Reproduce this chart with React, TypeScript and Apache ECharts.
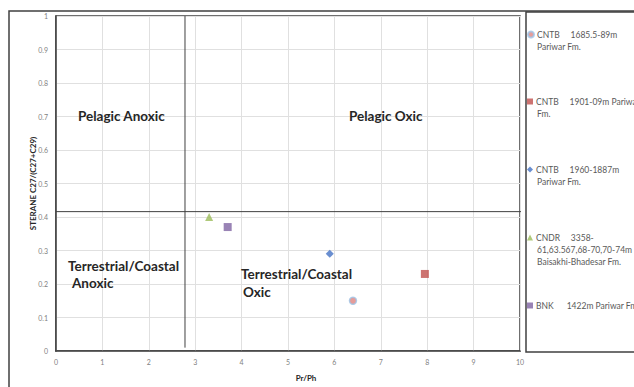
import React, { useEffect, useRef } from "react";
import * as echarts from "echarts";

const seriesNames = [
  "CNTB 1685.5-89m Pariwar Fm.",
  "CNTB 1901-09m Pariwar Fm.",
  "CNTB 1960-1887m Pariwar Fm.",
  "CNDR 3358-61,63.567,68-70,70-74m Baisakhi-Bhadesar Fm.",
  "BNK 1422m Pariwar Fm.",
];
const prPh = [6.4, 7.95, 5.9, 3.3, 3.7];
const sterane = [0.15, 0.23, 0.29, 0.4, 0.37];
const symbols = ["circle", "rect", "diamond", "triangle", "rect"];
const colors = ["#e0837f", "#c0504d", "#4472c4", "#9bbb59", "#8064a2"];

const legendFirstLines = [
  "CNTB     1685.5-89m",
  "CNTB     1901-09m Pariwar",
  "CNTB     1960-1887m",
  "CNDR     3358-",
  "BNK      1422m Pariwar Fm.",
];
const legendMoreLines = [
  ["Pariwar Fm."],
  ["Fm."],
  ["Pariwar Fm."],
  ["61,63.567,68-70,70-74m", "Baisakhi-Bhadesar Fm."],
  [],
];

const verticalDivider = [[2.78, 0.01], [2.78, 1]];
const horizontalDivider = [[0, 0.416], [10.03, 0.416]];

const regionLabels = [
  { text: "Pelagic Anoxic", x: 78, y: 116 },
  { text: "Pelagic Oxic", x: 349, y: 116 },
  { text: "Terrestrial/Coastal", x: 68, y: 266 },
  { text: "Anoxic", x: 72, y: 283 },
  { text: "Terrestrial/Coastal", x: 241, y: 274 },
  { text: "Oxic", x: 243, y: 292 },
];

const FONT = "Lato, 'Open Sans', sans-serif";

export default function App() {
  const ref = useRef<HTMLDivElement>(null);
  useEffect(() => {
    if (!ref.current) return;
    const chart = echarts.init(ref.current, null, { renderer: "svg" });
    const legendTops = [35, 102, 170, 238, 306];
    const series: any[] = seriesNames.map((name, i) => ({
      name,
      type: "scatter",
      data: [[prPh[i], sterane[i]]],
      symbol: symbols[i],
      symbolSize: i === 0 ? 7 : 8,
      clip: false,
      itemStyle:
        i === 0
          ? { color: colors[i], borderColor: "#9dc3e6", borderWidth: 1.5 }
          : { color: colors[i] },
      z: 5,
    }));
    [verticalDivider, horizontalDivider].forEach((d, k) =>
      series.push({
        name: "divider" + k,
        type: "line",
        data: d,
        symbol: "none",
        clip: false,
        silent: true,
        lineStyle: { color: "#404040", width: 1 },
        z: 3,
      })
    );
    const graphics: any[] = [
      {
        type: "rect",
        shape: { x: 9, y: 11, width: 800, height: 500 },
        style: { fill: "none", stroke: "#404040", lineWidth: 1.5 },
        silent: true,
      },
      {
        type: "rect",
        shape: { x: 526, y: 12, width: 300, height: 340 },
        style: { fill: "none", stroke: "#404040", lineWidth: 1.5 },
        silent: true,
      },
    ];
    regionLabels.forEach((r) =>
      graphics.push({
        type: "text",
        x: r.x,
        y: r.y,
        style: {
          text: r.text,
          font: `bold 13.5px ${FONT}`,
          fill: "#262626",
          verticalAlign: "middle",
        },
        z: 10,
      })
    );
    legendMoreLines.forEach((lines, i) =>
      lines.forEach((t, j) =>
        graphics.push({
          type: "text",
          x: 537,
          y: legendTops[i] + 12 * (j + 1),
          style: {
            text: t,
            font: `8.5px ${FONT}`,
            fill: "#595959",
            verticalAlign: "middle",
          },
        })
      )
    );
    chart.setOption({
      animation: false,
      textStyle: { fontFamily: FONT },
      grid: {
        left: 56,
        top: 16,
        right: 114,
        bottom: 34,
        show: true,
        borderColor: "#404040",
        borderWidth: 1.5,
      },
      xAxis: {
        type: "value",
        min: 0,
        max: 10,
        interval: 1,
        name: "Pr/Ph",
        nameLocation: "middle",
        nameGap: 23,
        nameMoveOverlap: false,
        nameTextStyle: {
          fontWeight: "bold",
          fontSize: 8,
          color: "#262626",
          padding: [0, 0, 0, 36],
        },
        axisLine: { show: true, lineStyle: { color: "#404040", width: 1.5 } },
        axisTick: { show: false },
        axisLabel: { fontSize: 7, color: "#7f7f7f", margin: 7 },
        splitLine: { show: true, lineStyle: { color: "#e0e0e0", width: 1 } },
      },
      yAxis: {
        type: "value",
        min: 0,
        max: 1,
        interval: 0.1,
        name: "STERANE C27/(C27+C29)",
        nameLocation: "middle",
        nameGap: 19,
        nameMoveOverlap: false,
        nameTextStyle: { fontWeight: "bold", fontSize: 8, color: "#262626" },
        axisLine: { show: true, lineStyle: { color: "#404040", width: 1.5 } },
        axisTick: { show: false },
        axisLabel: { fontSize: 7, color: "#7f7f7f", margin: 8 },
        splitLine: { show: true, lineStyle: { color: "#e0e0e0", width: 1 } },
      },
      legend: seriesNames.map((name, i) => ({
        data: [{ name, icon: symbols[i] }],
        left: 527,
        top: legendTops[i] - 5,
        itemWidth: 6,
        itemHeight: 6,
        itemGap: 0,
        padding: 0,
        selectedMode: false,
        formatter: () => legendFirstLines[i],
        textStyle: { fontSize: 8.5, color: "#595959", padding: [0, 0, 0, -2] },
      })),
      graphic: graphics,
      series,
    });
    return () => chart.dispose();
  }, []);
  return (
    <div
      ref={ref}
      style={{ position: "fixed", left: 0, top: 0, width: 634, height: 387, background: "#fff" }}
    />
  );
}
